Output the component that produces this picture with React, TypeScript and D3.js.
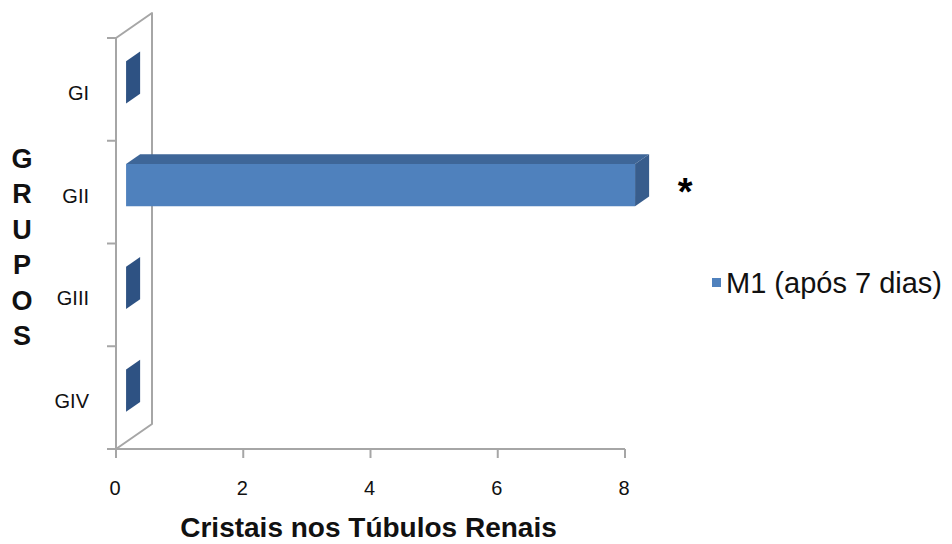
import React from "react";
import * as d3 from "d3";

// Crystal counts in the renal tubules per group (M1, after 7 days)
const groups = ["GI", "GII", "GIII", "GIV"];
const m1Values = [0, 8, 0, 0];
const xTicks = [0, 2, 4, 6, 8];
const seriesName = "M1 (após 7 dias)";
const yTitleLetters = ["G", "R", "U", "P", "O", "S"];
const xTitle = "Cristais nos Túbulos Renais";
const significant = ["GII"];

const W = 952;
const H = 544;

// 3D projection: full depth vector of the plot box
const DEPTH_X = 36;
const DEPTH_Y = -25;
// bar occupies this slice of the depth
const BAR_D0 = 0.28;
const BAR_D1 = 0.67;

const FRONT = "#4F81BD";
const TOP = "#3E6698";
const SIDE = "#385D8C";
const SIDE_ZERO = "#2E5283";
const GRID = "#A6A6A6";

const font = "'Liberation Sans', Arial, sans-serif";

export default function App() {
  const x = d3.scaleLinear().domain([0, 8]).range([116, 625]);
  const y = d3.scaleBand<string>().domain(groups).range([38, 449]);
  const barFrac = 0.41;

  const x0 = x(0);
  const yTop = y.range()[0];
  const yBot = y.range()[1];

  const off = (d: number) => [d * DEPTH_X, d * DEPTH_Y];
  const [fx, fy] = off(BAR_D0);
  const [bx, by] = off(BAR_D1);

  const pts = (arr: number[][]) => arr.map((p) => p.join(",")).join(" ");

  return (
    <svg width={W} height={H} style={{ position: "absolute", left: 0, top: 0, background: "#fff" }}>
      {/* side wall at value zero */}
      <polygon
        points={pts([
          [x0, yBot],
          [x0, yTop],
          [x0 + DEPTH_X, yTop + DEPTH_Y],
          [x0 + DEPTH_X, yBot + DEPTH_Y],
        ])}
        fill="none"
        stroke={GRID}
        strokeWidth={2}
        strokeLinejoin="round"
      />
      {/* x axis line and ticks */}
      <line x1={x0 - 9} x2={x(8)} y1={yBot} y2={yBot} stroke={GRID} strokeWidth={2} />
      {xTicks.map((t) => (
        <g key={t}>
          <line x1={x(t)} x2={x(t)} y1={yBot} y2={yBot + 9} stroke={GRID} strokeWidth={2} />
          <text x={x(t) - 1} y={495} textAnchor="middle" fontFamily={font} fontSize={20} fill="#111">
            {t}
          </text>
        </g>
      ))}
      {/* y axis ticks at band edges */}
      {[...groups.map((g) => y(g) as number), yBot].map((v, i) => (
        <line key={i} x1={x0 - 9} x2={x0} y1={v} y2={v} stroke={GRID} strokeWidth={2} />
      ))}
      {/* category labels */}
      {groups.map((g) => (
        <text
          key={g}
          x={89}
          y={(y(g) as number) + y.bandwidth() / 2 + 10.5}
          textAnchor="end"
          fontFamily={font}
          fontSize={20}
          fill="#111"
        >
          {g}
        </text>
      ))}
      {/* bars */}
      {groups.map((g, i) => {
        const v = m1Values[i];
        const c = (y(g) as number) + y.bandwidth() / 2;
        const h = y.bandwidth() * barFrac;
        const t = c - h / 2;
        const b = c + h / 2;
        const xl = x(0);
        const xr = x(v);
        const front = [
          [xl + fx, t + fy],
          [xr + fx, t + fy],
          [xr + fx, b + fy],
          [xl + fx, b + fy],
        ];
        const top = [
          [xl + fx, t + fy],
          [xr + fx, t + fy],
          [xr + bx, t + by],
          [xl + bx, t + by],
        ];
        const side = [
          [xr + fx, t + fy],
          [xr + bx, t + by],
          [xr + bx, b + by],
          [xr + fx, b + fy],
        ];
        return (
          <g key={g}>
            {v > 0 && <polygon points={pts(top)} fill={TOP} />}
            {v > 0 && <polygon points={pts(front)} fill={FRONT} />}
            <polygon points={pts(side)} fill={v > 0 ? SIDE : SIDE_ZERO} />
          </g>
        );
      })}
      {/* significance marker */}
      {groups.map((g, i) =>
        significant.includes(g) ? (
          <text
            key={g}
            x={x(m1Values[i]) + bx + 36}
            y={(y(g) as number) + y.bandwidth() / 2 + 13}
            textAnchor="middle"
            fontFamily={font}
            fontWeight="bold"
            fontSize={38}
            fill="#000"
          >
            *
          </text>
        ) : null
      )}
      {/* vertical axis title */}
      {yTitleLetters.map((l, i) => (
        <text
          key={i}
          x={22}
          y={168 + i * 35.4}
          textAnchor="middle"
          fontFamily={font}
          fontWeight="bold"
          fontSize={27}
          fill="#111"
        >
          {l}
        </text>
      ))}
      {/* horizontal axis title */}
      <text
        x={(x(0) + x(8)) / 2 - 2}
        y={537}
        textAnchor="middle"
        fontFamily={font}
        fontWeight="bold"
        fontSize={28}
        fill="#111"
      >
        {xTitle}
      </text>
      {/* legend */}
      <rect x={712} y={278} width={9} height={9} fill={FRONT} />
      <text x={726} y={293} fontFamily={font} fontSize={29} fill="#111">
        {seriesName}
      </text>
    </svg>
  );
}
